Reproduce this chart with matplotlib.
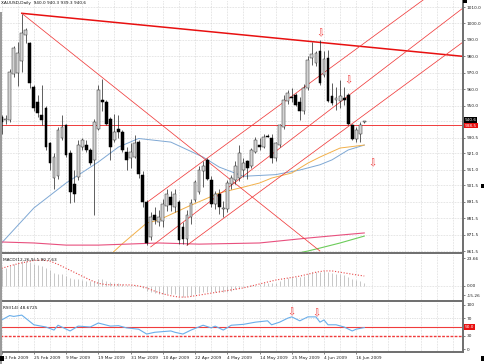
import matplotlib
matplotlib.use("Agg")
import matplotlib.pyplot as plt
from matplotlib.patches import Rectangle
from matplotlib.transforms import blended_transform_factory

# ---- data (bar index 0 = 13 Feb 2009) ----
OPEN = [943, 941, 941, 969.5, 970, 977, 993, 988, 961.5, 952.5,
        944, 948.5, 927, 906, 907, 930, 938, 921, 902.5, 906.5,
        925, 926, 923, 917, 936, 953.5, 952.5, 942, 929, 936,
        934, 922, 918, 919, 928, 908, 891.5, 870, 883.5, 879,
        880, 889, 894.5, 888, 891.5, 876, 869, 882, 892.5, 897.5,
        910, 917, 905, 890, 896, 887, 887, 902, 905, 906,
        911, 916, 913, 922, 926, 925, 931.5, 930, 918, 926,
        937, 953, 955.5, 956.5, 952.5, 947, 961, 979, 976, 983,
        968.5, 978.8, 956, 953.5, 953, 954.5, 956.5, 938, 929.5, 933,
        940.0]
HIGH = [944, 944, 972, 986, 989, 1006, 997.5, 989, 962.5, 956.5,
        962.5, 949.5, 928, 921, 937, 944, 939, 923, 911, 929,
        930, 929, 924, 942, 962.5, 966.5, 953.5, 943, 945, 944,
        935, 925, 927, 932, 929, 910, 892.5, 885.5, 888.5, 886.5,
        893, 899, 898, 899, 892.5, 879, 886.5, 893, 905, 913,
        916, 918, 907, 898, 899, 892, 905, 908, 916, 926,
        918, 917, 924, 931, 930, 933, 933, 933, 928, 939,
        956.5, 959.5, 960.5, 957.5, 955, 963, 980, 989, 983.5, 990,
        983, 984, 963.5, 961.5, 965.5, 961.5, 957.5, 939, 937, 940,
        940.8]
LOW = [933, 939, 940, 967.5, 962, 970.5, 988, 960.5, 947, 943,
       938, 923, 911, 899.5, 905.5, 929, 919, 890.5, 891.5, 904.5,
       923, 922, 914, 883.5, 935, 947, 938, 917, 928, 930,
       922, 911, 912, 918, 906, 888, 865, 868, 878, 877,
       876, 886, 886, 885, 866, 865.5, 865, 878, 891.5, 896.5,
       900.5, 904.5, 888, 887, 884, 882, 885, 899, 902, 904,
       906.5, 905.5, 912, 921, 923, 924, 931, 915, 916, 925,
       936, 951, 952.5, 949.5, 941, 945, 959.5, 974.5, 974, 962.5,
       967.5, 952, 950.5, 947.5, 948.5, 950.5, 938, 929, 928, 928,
       939.3]
CLOSE = [940, 942, 970.5, 985, 982, 994, 996, 963.5, 948.5, 945.5,
         941, 925, 915, 919, 935, 937, 920, 897.5, 896.5, 926,
         929, 923, 915, 940, 959.5, 952, 939, 925, 934, 934,
         923, 917, 922, 927, 908.5, 891.5, 866.5, 882.5, 880.5, 882,
         890, 896.5, 889.5, 896, 868, 869, 883.5, 890.5, 903.5, 911,
         913, 905.5, 890, 896, 888, 887.5, 903, 906, 913, 921,
         915, 912, 923, 929, 925, 931, 931, 918, 927, 938,
         953.5, 957.5, 954.5, 950.5, 946.5, 961, 977.5, 981.5, 982, 963.5,
         978.5, 953, 951.5, 954.5, 956, 953.5, 939, 929.5, 935, 938,
         940.6]

# moving averages drawn on the price panel (bar index, price)
BLUE_IDX = [0, 8, 16, 24, 29, 34, 42, 50, 54, 60, 68, 74, 79, 82, 86, 90]
BLUE_VAL = [866.4, 887.7, 902.9, 915.7, 924.8, 930.0, 927.8, 918.7, 912.6,
            907.0, 908.0, 910.8, 914.0, 917.0, 923.0, 926.0]
ORANGE_IDX = [26, 30, 36, 39, 46, 54, 57, 60, 64, 67, 72, 76, 79, 84, 90]
ORANGE_VAL = [857.0, 866.0, 878.5, 880.4, 888.3, 896.8, 898.6, 900.4, 902.9,
              905.9, 909.0, 915.0, 918.7, 924.2, 926.0]
PINK_IDX = [0, 8, 16, 24, 39, 49, 64, 76, 84, 90]
PINK_VAL = [867.0, 866.4, 865.1, 865.1, 866.4, 865.7, 866.4, 869.4, 871.2, 872.5]
GREEN_IDX = [73, 76, 79, 84, 90]
GREEN_VAL = [860.0, 861.5, 863.3, 866.4, 870.6]

# hand-drawn objects (bar index, price)
HLINE_PRICE = 938.5
TREND_TOP = [(5, 1006.2), (114.5, 980.0)]
TREND_DOWN = [(5, 1006.2), (79, 861.5)]
CHANNEL = [[(36, 891.0), (115, 1033.0)],
           [(37, 864.0), (114.5, 1009.4)],
           [(46, 865.0), (114.5, 988.7)]]
ARROWS_PRICE = [(79, 994.2), (86, 965.6), (92, 915.0)]
ARROWS_RSI = [(72, 84), (78, 82)]

MACD_HIST = [13, 13.5, 15, 17, 18, 19, 19, 18, 17, 16,
             15, 13.5, 12, 10, 9.5, 9, 7.5, 6, 5, 5,
             4.5, 4, 3.5, 4, 5, 5, 4, 3, 2.5, 2,
             1.5, 1, 0.5, 0.5, 0, -1.5, -3.5, -4.5, -5.5, -6,
             -6, -6, -6.5, -6, -7.5, -8.5, -8, -7.5, -6.5, -5.5,
             -4.5, -4.5, -5, -5, -5, -5, -4.5, -3.5, -2.5, -1.5,
             -1, -0.5, 0.5, 1, 1.5, 2, 2.5, 2, 2.5, 3.5,
             5, 6, 6.5, 6.5, 6.5, 7.5, 9, 10.5, 11, 11,
             11.5, 10.5, 10, 9.5, 9, 8.5, 7, 5.5, 4.5, 3.5,
             1.9]
SIGNAL_IDX = [0, 4, 8, 10, 12, 14, 16, 18, 20, 22, 24, 26, 28, 30, 32, 34,
              36, 38, 40, 42, 44, 46, 48, 50, 52, 54, 56, 58, 60, 62, 64,
              66, 68, 70, 72, 74, 76, 78, 80, 82, 84, 86, 88, 90]
SIGNAL_VAL = [13.5, 17, 19.5, 19.8, 19, 16.5, 13.5, 10.5, 7.5, 4.5, 2, 1,
              0.8, 0.8, 0.8, 0, -1.5, -4, -6, -7.5, -8.5, -8.5, -7.5, -6.5,
              -5.5, -4.5, -3.5, -2.5, -1.5, 0, 1.5, 3, 4.5, 5.5, 6.5, 7.5,
              9, 10.5, 11.5, 11.5, 10.5, 9.5, 8.5, 7.6]

RSI_IDX = [0, 2, 3, 5, 8, 11, 13, 14, 17, 19, 22, 24, 27, 29, 31, 34, 36,
           38, 42, 43, 45, 47, 50, 52, 53, 55, 57, 60, 63, 66, 67, 69, 71,
           72, 74, 76, 78, 79, 80, 81, 83, 85, 87, 88, 90]
RSI_VAL = [66, 76, 74, 77, 55, 50, 43, 54, 41, 52, 50, 59, 52, 53, 48, 45,
           34, 38, 41, 38, 34, 43, 54, 48, 52, 43, 54, 56, 61, 64, 55, 61,
           70, 73, 64, 73, 73, 61, 66, 55, 55, 50, 41, 45, 48.7]

PRICE_TICKS = [1010.0, 1000.0, 990.0, 980.0, 970.0, 960.0, 950.0, 930.5,
               921.0, 911.0, 901.5, 891.5, 881.5, 871.5, 861.5]
DATE_IDX = [0, 8, 16, 24, 32, 40, 48, 56, 64, 72, 80, 88]
DATE_LABELS = ["13 Feb 2009", "25 Feb 2009", "9 Mar 2009", "19 Mar 2009",
               "31 Mar 2009", "10 Apr 2009", "22 Apr 2009", "4 May 2009",
               "14 May 2009", "25 May 2009", "4 Jun 2009", "16 Jun 2009"]
TITLE = "XAUUSD,Daily  940.0 940.3 939.3 940.6"

# ---- layout ----
W, H = 485, 364
RED = "#f03c3c"
FRAME = "#6e6e6e"
GRID = "#c4c4c4"
FS = 3.1

plt.rcParams["font.family"] = "DejaVu Sans"
fig = plt.figure(figsize=(W / 100, H / 100), dpi=100)


def box(x0, y0, x1, y1):
    return [x0 / W, 1 - y1 / H, (x1 - x0) / W, (y1 - y0) / H]


ax = fig.add_axes(box(0, 0, 463, 253))
ax_macd = fig.add_axes(box(0, 255, 463, 301), sharex=ax)
ax_rsi = fig.add_axes(box(0, 303, 463, 352), sharex=ax)

for a in (ax, ax_macd, ax_rsi):
    a.set_facecolor("white")
    for s in ("top", "left"):
        a.spines[s].set_visible(False)
    a.spines["right"].set_color(FRAME)
    a.spines["right"].set_linewidth(1.4)
    a.spines["bottom"].set_color(FRAME)
    a.spines["bottom"].set_linewidth(1.4)
    a.yaxis.tick_right()
    a.tick_params(axis="y", labelsize=FS, length=1.5, width=0.4, pad=1,
                  colors="#222222")
    for gx in range(0, 116, 4):
        a.axvline(gx, color=GRID, lw=0.45, ls=(0, (1, 1.5)), zorder=0)
ax.tick_params(axis="x", bottom=False, labelbottom=False)
ax_macd.tick_params(axis="x", bottom=False, labelbottom=False)
ax.set_xlim(-0.4, 114.5)

# ---- price panel ----
ax.set_ylim(860.3, 1014.3)
ax.set_yticks(PRICE_TICKS)
ax.set_yticklabels([f"{v:.1f}" for v in PRICE_TICKS])
for v in PRICE_TICKS + [940.5]:
    ax.axhline(v, color=GRID, lw=0.45, ls=(0, (1, 1.5)), zorder=0)

n = len(OPEN)
xs = list(range(n))
ax.vlines(xs, LOW, HIGH, color="#202020", lw=0.5, zorder=3)
bull = [i for i in xs if CLOSE[i] >= OPEN[i]]
bear = [i for i in xs if CLOSE[i] < OPEN[i]]
ax.bar(bull, [CLOSE[i] - OPEN[i] for i in bull], bottom=[OPEN[i] for i in bull],
       width=0.7, color="#d4d4d4", edgecolor="#303030", linewidth=0.35, zorder=4)
ax.bar(bear, [OPEN[i] - CLOSE[i] for i in bear], bottom=[CLOSE[i] for i in bear],
       width=0.7, color="#000000", edgecolor="#000000", linewidth=0.35, zorder=4)

ax.plot(BLUE_IDX, BLUE_VAL, color="#7fa8d4", lw=0.7, zorder=2)
ax.plot(ORANGE_IDX, ORANGE_VAL, color="#f2b04a", lw=0.7, zorder=2)
ax.plot(PINK_IDX, PINK_VAL, color="#e8507e", lw=0.8, zorder=2)
ax.plot(GREEN_IDX, GREEN_VAL, color="#6ccc5a", lw=0.8, zorder=2)

ax.axhline(HLINE_PRICE, color=RED, lw=0.7, zorder=2)
(x0, y0), (x1, y1) = TREND_TOP
ax.plot([x0, x1], [y0, y1], color="#e81010", lw=1.1, zorder=2)
(x0, y0), (x1, y1) = TREND_DOWN
ax.plot([x0, x1], [y0, y1], color=RED, lw=0.55, zorder=2)
for (x0, y0), (x1, y1) in CHANNEL:
    ax.plot([x0, x1], [y0, y1], color=RED, lw=0.55, zorder=2)
for bx, py in ARROWS_PRICE:
    ax.text(bx, py, "\u21e9", color=RED, fontsize=7, ha="center", va="center",
            zorder=5)

ax.text(0.003, 0.995, TITLE, transform=ax.transAxes, fontsize=FS,
        ha="left", va="top", color="#111111")

tr = blended_transform_factory(ax.transAxes, ax.transData)
ax.text(1.004, CLOSE[-1] + 0.6, f"{CLOSE[-1]:.1f}", transform=tr, fontsize=FS,
        color="white", ha="left", va="center", zorder=6,
        bbox=dict(boxstyle="square,pad=0.15", fc="black", ec="none"))
ax.text(1.004, HLINE_PRICE - 0.6, f"{HLINE_PRICE:.1f}", transform=tr, fontsize=FS,
        color="white", ha="left", va="center", zorder=7,
        bbox=dict(boxstyle="square,pad=0.15", fc="#e81010", ec="none"))

# ---- MACD panel ----
ax_macd.set_ylim(-11.5, 23.66)
ax_macd.vlines(xs, 0, MACD_HIST, color="#b0b0b0", lw=0.5, zorder=2)
ax_macd.plot(SIGNAL_IDX, SIGNAL_VAL, color="#e84848", lw=0.8,
             ls=(0, (1, 1.6)), zorder=3)
ax_macd.axhline(0, color=GRID, lw=0.45, ls=(0, (1, 1.5)), zorder=0)
ax_macd.set_yticks([21.3, 0, -7.0])
ax_macd.set_yticklabels(["23.66", "0.00", "-15.26"])
ax_macd.text(0.006, 0.93, "MACD(12,26,9) 1.90 7.63", transform=ax_macd.transAxes,
             fontsize=FS, ha="left", va="top", color="#111111")

# ---- RSI panel ----
ax_rsi.set_ylim(-6.8, 104.5)
ax_rsi.axhline(70, color=GRID, lw=0.5, ls=(0, (1, 1.5)), zorder=0)
ax_rsi.axhline(50, color=RED, lw=0.8, zorder=1)
ax_rsi.axhline(30, color=RED, lw=1.0, ls=(0, (2, 1)), zorder=1)
ax_rsi.plot(RSI_IDX, RSI_VAL, color="#6aaeea", lw=0.8, zorder=3)
for bx, v in ARROWS_RSI:
    ax_rsi.text(bx, v, "\u21e9", color=RED, fontsize=7, ha="center",
                va="center", zorder=5)
ax_rsi.set_yticks([100, 70, 30, 0])
ax_rsi.set_yticklabels(["100", "70", "30", "0"])
tr2 = blended_transform_factory(ax_rsi.transAxes, ax_rsi.transData)
ax_rsi.text(1.004, 50, "50.0", transform=tr2, fontsize=FS, color="white",
            ha="left", va="center", zorder=6,
            bbox=dict(boxstyle="square,pad=0.15", fc="#e81010", ec="none"))
ax_rsi.text(0.006, 0.93, "RSI(14) 48.6725", transform=ax_rsi.transAxes,
            fontsize=FS, ha="left", va="top", color="#111111")
ax_rsi.set_xticks(DATE_IDX)
ax_rsi.set_xticklabels(DATE_LABELS, ha="left")
ax_rsi.tick_params(axis="x", labelsize=FS, length=1.5, width=0.4, pad=1.2,
                   colors="#222222")

# frame bits of the terminal window
fig.add_artist(Rectangle((0, 0), 2 / W, 352 / H, transform=fig.transFigure,
                         color="#9a9a9a", lw=0))
for (px, py, pw, ph) in [(463, 0, 4, 3), (481, 184, 4, 4), (0, 356, 4, 5),
                         (481, 356, 4, 5)]:
    fig.add_artist(Rectangle((px / W, 1 - (py + ph) / H), pw / W, ph / H,
                             transform=fig.transFigure, color="black", lw=0))

fig.savefig("out.png", dpi=100, facecolor="white")
